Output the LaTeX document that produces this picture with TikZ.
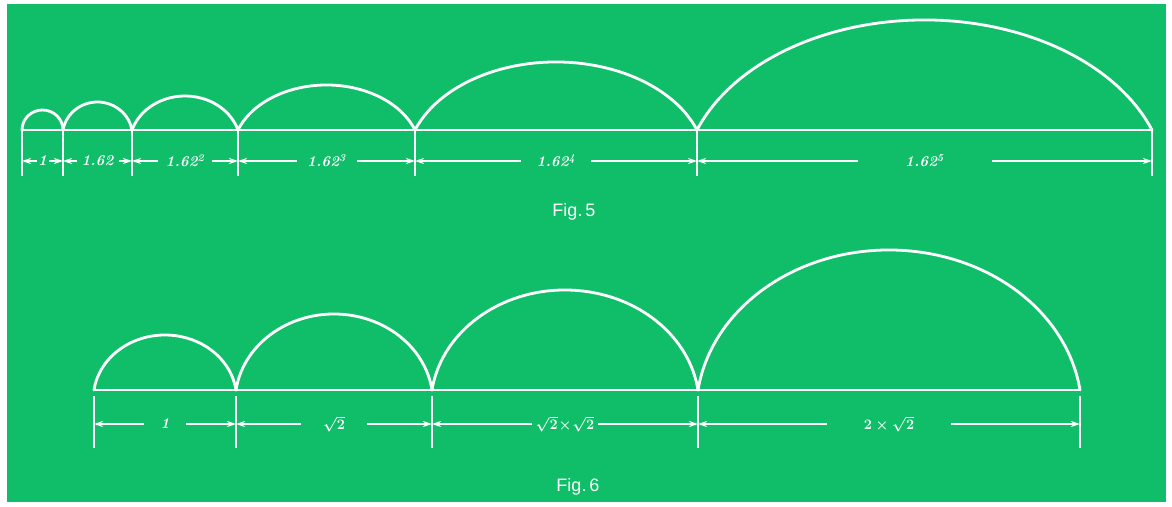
\documentclass[tikz,border=0pt]{standalone}
\usepackage{fontspec}
\setsansfont{Liberation Sans}
\usetikzlibrary{arrows.meta,calc}
\definecolor{board}{RGB}{16,190,106}

\begin{document}
\begin{tikzpicture}[
  x=1pt, y=1pt,
  curve/.style={white, line width=2.8pt, line cap=round},
  base/.style={white, line width=2.8pt, line cap=round},
  tick/.style={white, line width=1.4pt},
  dim/.style={white, line width=1.4pt, {Stealth[length=9pt, width=6pt]}-{Stealth[length=9pt, width=6pt]}},
  size/.style={fill=board, inner sep=0pt, minimum height=16pt, text=white, font=\fontsize{15}{15}\selectfont\bfseries\itshape\boldmath},
  caption/.style={text=white, font=\sffamily\fontsize{18}{18}\selectfont}
]
\useasboundingbox (0,0) rectangle (1172,506);
\fill[white] (0,0) rectangle (1172,506);
\fill[board] (7,4) rectangle (1166,502);

% Fig. 5
\foreach \n/\x in {0/22,1/63,2/132,3/238,4/415,5/697,6/1152}
  \coordinate (a\n) at (\x,376);
\coordinate (dimA) at (0,345);
\draw[base] (a0) -- (a6);
\foreach \l/\r/\h/\t in {0/1/20/0,1/2/28/10,2/3/34/18,3/4/45/20,4/5/68/20,5/6/110/20}
  \draw[curve] let \p1=(a\l), \p2=(a\r) in
    (a\l) arc[start angle=180-\t, end angle=\t,
              x radius={(\x2-\x1)/2/cos(\t)}, y radius={\h*1pt/(1-sin(\t))}];
\foreach \n in {0,...,6}
  \draw[tick] (a\n) -- ++(0,-46);
\draw[dim] (a0 |- dimA) -- node[size, minimum width=12pt] {1} (a1 |- dimA);
\draw[dim] (a1 |- dimA) -- node[size, minimum width=42pt] {1.62} (a2 |- dimA);
\draw[dim] (a2 |- dimA) -- node[size, minimum width=54pt] {1.62\textsuperscript{2}} (a3 |- dimA);
\draw[dim] (a3 |- dimA) -- node[size, minimum width=60pt] {1.62\textsuperscript{3}} (a4 |- dimA);
\draw[dim] (a4 |- dimA) -- node[size, minimum width=70pt] {1.62\textsuperscript{4}} (a5 |- dimA);
\draw[dim] (a5 |- dimA) -- node[size, minimum width=134pt] {1.62\textsuperscript{5}} (a6 |- dimA);
\node[caption] (fig5) at (574,294) {Fig.\,5};

% Fig. 6
\foreach \n/\x in {0/94,1/236,2/432,3/698,4/1080}
  \coordinate (b\n) at (\x,116);
\coordinate (dimB) at (0,82);
\draw[base] (b0) -- (b4);
\foreach \l/\r/\h/\t in {0/1/55/8,1/2/76/8,2/3/100/8,3/4/140/8}
  \draw[curve] let \p1=(b\l), \p2=(b\r) in
    (b\l) arc[start angle=180-\t, end angle=\t,
              x radius={(\x2-\x1)/2/cos(\t)}, y radius={\h*1pt/(1-sin(\t))}];
\foreach \n in {0,...,4}
  \draw[tick] ([yshift=-6pt]b\n) -- ++(0,-52);
\draw[dim] (b0 |- dimB) -- node[size, minimum width=42pt] {1} (b1 |- dimB);
\draw[dim] (b1 |- dimB) -- node[size, minimum width=66pt] {$\sqrt{2}$} (b2 |- dimB);
\draw[dim] (b2 |- dimB) -- node[size, minimum width=66pt] {$\sqrt{2}\!\times\!\sqrt{2}$} (b3 |- dimB);
\draw[dim] (b3 |- dimB) -- node[size, minimum width=124pt] {$2\times\sqrt{2}$} (b4 |- dimB);
\node[caption] (fig6) at (578,19) {Fig.\,6};
\end{tikzpicture}
\end{document}
